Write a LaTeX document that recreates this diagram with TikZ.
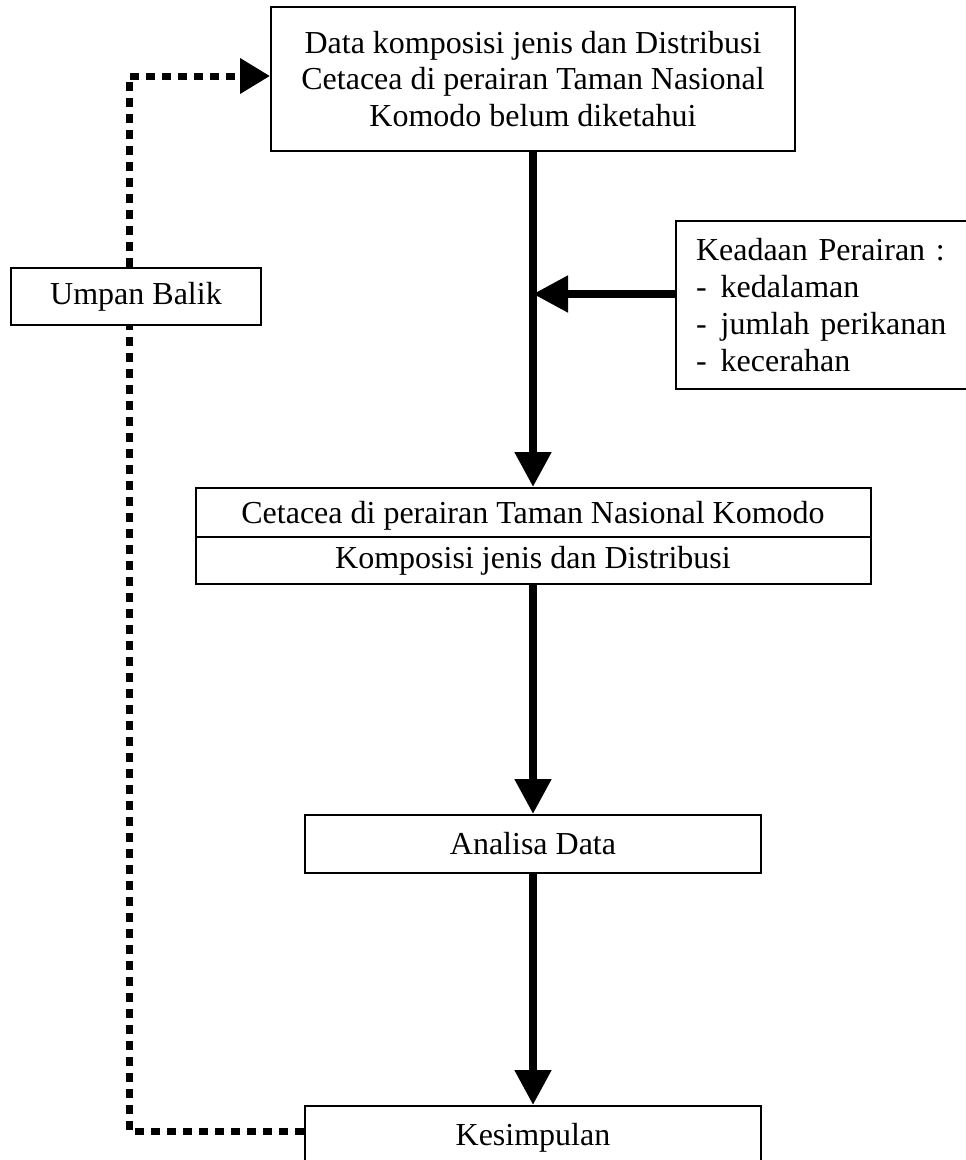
\documentclass[tikz,border=0pt]{standalone}
\usepackage{fontspec}
\setmainfont{Liberation Serif}
\usetikzlibrary{arrows.meta,positioning,calc}
\tikzstyle{box}=[rectangle,draw,line width=2pt,inner sep=0pt,align=center,font=\fontsize{32}{36.8}\selectfont]
\tikzstyle{eMain}=[line width=8pt,draw=black,-{Triangle[length=35pt,width=35pt]}]
\tikzstyle{eBack}=[line width=7pt,draw=black,dash pattern=on 9pt off 7pt,-{Triangle[length=30pt,width=34pt]}]
\newcommand{\itemdash}{-\hspace{.44em}}

\begin{document}
\begin{tikzpicture}[x=1pt,y=-1pt]

                \useasboundingbox (0,0) rectangle (966,1160);

                \draw (533,79) node[box,minimum width=524pt,minimum height=144pt] (top) {Data komposisi jenis dan Distribusi\\Cetacea di perairan Taman Nasional\\Komodo belum diketahui};
                \draw (675,220) node[box,anchor=north west,align=left,text width=300pt,inner xsep=20pt,minimum height=168pt] (kead) {Keadaan Perairan :\\\itemdash kedalaman\\\itemdash jumlah perikanan\\\itemdash kecerahan};
                \draw (136,296.5) node[box,minimum width=250pt,minimum height=57pt] (umpan) {Umpan Balik};
                \draw (533,512.5) node[box,minimum width=675pt,minimum height=49pt,text depth=0pt] (cetTop) {Cetacea di perairan Taman Nasional Komodo};
                \draw (533,560.5) node[box,minimum width=675pt,minimum height=47pt] (cetBot) {Komposisi jenis dan Distribusi};
                \draw (533,844) node[box,minimum width=456pt,minimum height=58pt] (analisa) {Analisa Data};
                \draw (533,1138) node[box,minimum width=456pt,minimum height=64pt] (kes) {Kesimpulan};

                \path ([yshift=11pt]kead.west) coordinate (keadIn);
                \path
                    (top) edge[eMain] (cetTop)
                    (keadIn) edge[eMain] (keadIn -| top.south)
                    (cetBot) edge[eMain] (analisa)
                    (analisa) edge[eMain] (kes)
                ;

                % umpan balik
                \draw[eBack,-] ([yshift=7pt]kes.west) -| ([xshift=-7pt]umpan.south);
                \draw[eBack] ([xshift=-7pt]umpan.north) |- ([yshift=3pt]top.west);

\end{tikzpicture}
\end{document}
